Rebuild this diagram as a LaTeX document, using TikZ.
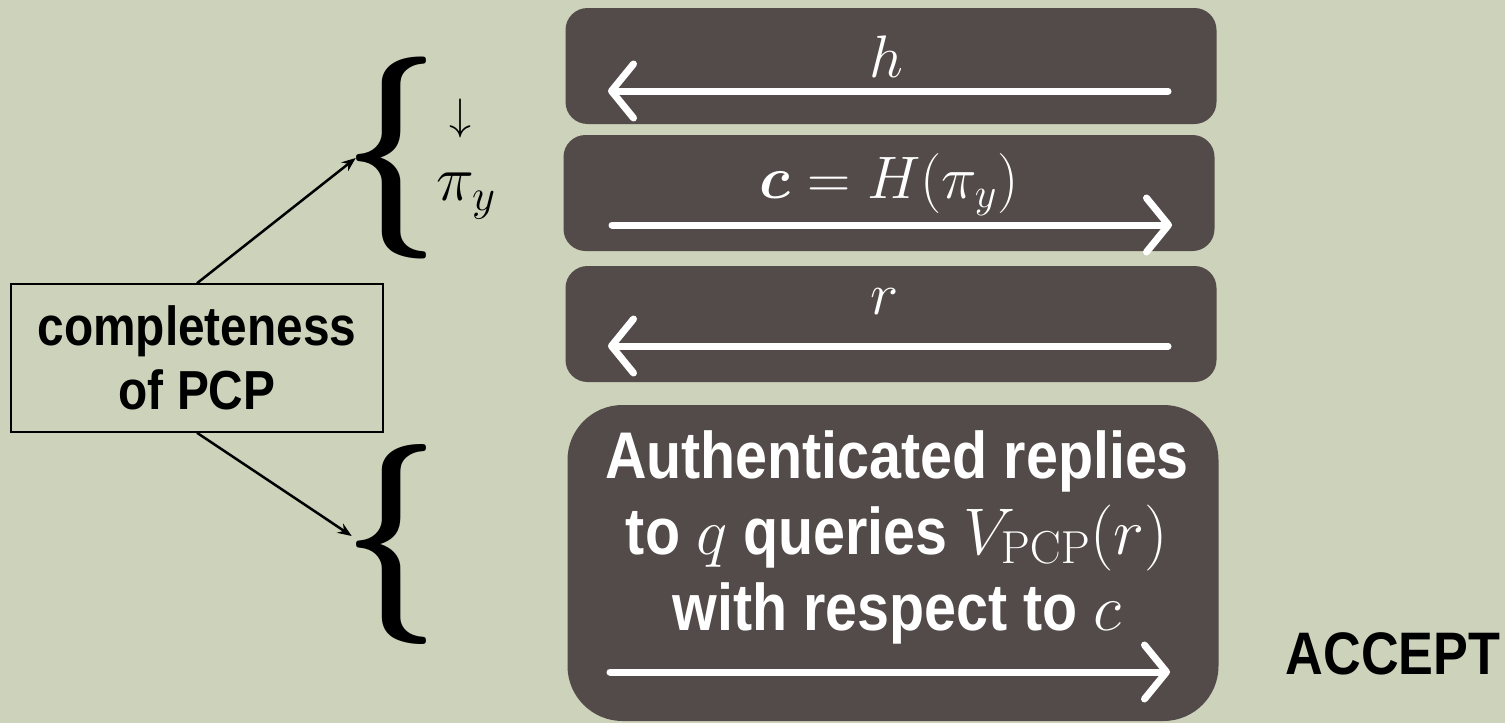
\RequirePackage{fix-cm}
\documentclass[tikz,border=0pt]{standalone}
\usepackage{amsmath}
\usepackage{graphicx}
\usepackage[no-math]{fontspec}
\setmainfont{Liberation Sans}[FakeStretch=0.87]
\usetikzlibrary{positioning, arrows.meta}

\definecolor{sage}{RGB}{205,210,187}
\definecolor{slate}{RGB}{83,75,73}

\tikzset{
    msgbox/.style={fill=slate, rounded corners=22pt, minimum width=651pt,
        minimum height=116pt, inner sep=0pt},
    msgtext/.style={text=white, font=\fontsize{60}{66}\selectfont},
    msgarrow/.style={white, line width=7pt, line cap=round,
        -{Straight Barb[length=22pt, width=54pt, line cap=round, line join=round]}},
    notearrow/.style={line width=2.5pt, -{Stealth[length=14pt, width=11pt]}},
    bracenode/.style={inner sep=0pt},
}

\begin{document}
\begin{tikzpicture}[x=1pt, y=-1pt]
    % --- Background ---
    \fill[sage] (0,0) rectangle (1505,723);

    % --- Message boxes ---
    \node[msgbox] (hbox) at (891,66) {};
    \node[msgbox] (cbox) at (889,193) {};
    \node[msgbox] (rbox) at (891,324) {};
    \node[msgbox, minimum height=316pt, rounded corners=55pt] (qbox) at (893,563) {};

    % --- Message labels ---
    \node[msgtext] (hlabel) at (886,57) {$h$};
    \node[msgtext] (clabel) at (889,185) {$\boldsymbol{c} = H(\pi_y)$};
    \node[msgtext] (rlabel) at (885,302) {$r$};
    \node[text=white, align=center, font=\bfseries\fontsize{66}{76}\selectfont]
        (qlabel) at (897,537) {Authenticated replies\\
        to $q$ queries $V_{\mathrm{PCP}}(r)$\\
        with respect to $c$};

    % --- Message arrows ---
    \coordinate (h-from) at (1168,91);   \coordinate (h-to) at (608,91);
    \coordinate (c-from) at (612,225);   \coordinate (c-to) at (1172,225);
    \coordinate (r-from) at (1168,346);  \coordinate (r-to) at (608,346);
    \coordinate (q-from) at (610,672);   \coordinate (q-to) at (1170,672);
    \draw[msgarrow] (h-from) -- (h-to);
    \draw[msgarrow] (c-from) -- (c-to);
    \draw[msgarrow] (r-from) -- (r-to);
    \draw[msgarrow] (q-from) -- (q-to);

    % --- Braces and the proof string ---
    \node[bracenode] (upbrace) at (392,158) {\resizebox*{96pt}{202pt}{$\boldsymbol{\{}$}};
    \node[bracenode] (lowbrace) at (392,544) {\resizebox*{96pt}{200pt}{$\boldsymbol{\{}$}};
    \node[font=\fontsize{44}{50}\selectfont] (down) at (460,118) {$\downarrow$};
    \node[font=\fontsize{64}{70}\selectfont] (piy) at (466,196) {$\pi_y$};

    % --- Completeness note ---
    \node[draw, line width=1.5pt, minimum width=372pt, minimum height=148pt,
        align=center, font=\bfseries\fontsize{55}{64}\selectfont]
        (pcp) at (197,358) {completeness\\of PCP};
    \draw[notearrow] (pcp.north) -- ([xshift=12pt]upbrace.west);
    \draw[notearrow] (pcp.south) -- ([xshift=8pt, yshift=8pt]lowbrace.west);

    % --- Verdict ---
    \node[font=\bfseries\fontsize{60}{66}\selectfont] (accept) at (1393,654) {ACCEPT};
\end{tikzpicture}
\end{document}
